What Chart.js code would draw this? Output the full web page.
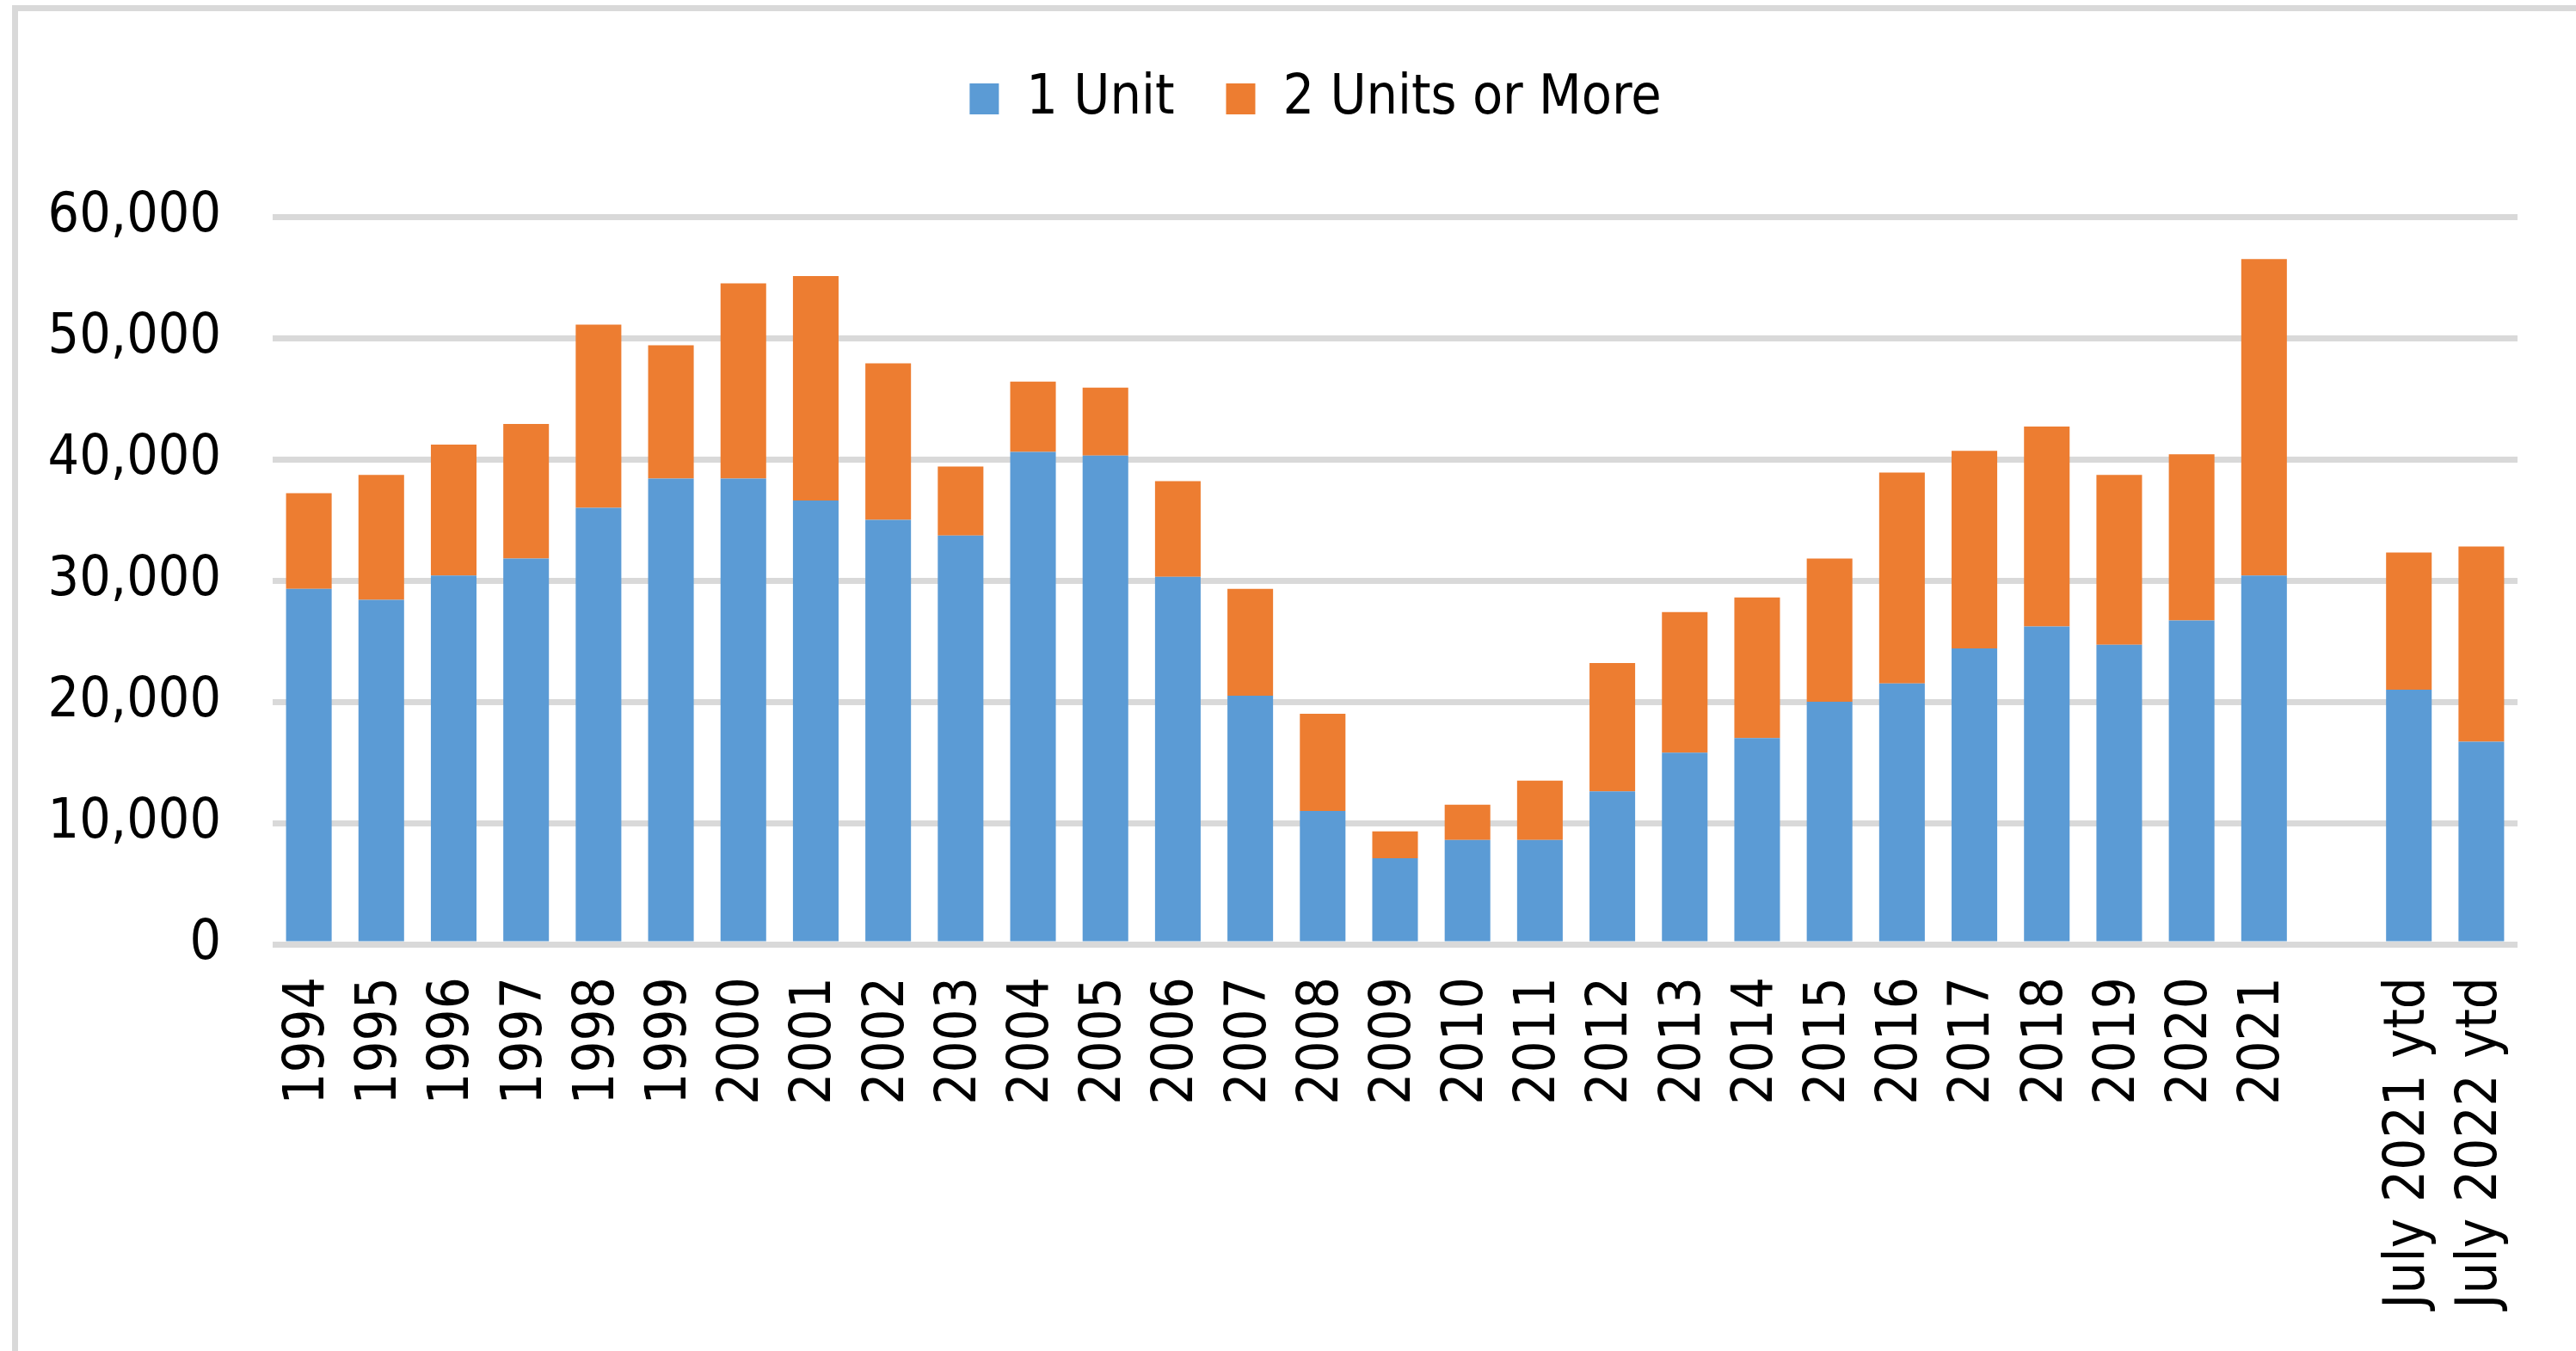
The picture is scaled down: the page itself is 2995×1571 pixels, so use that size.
<!DOCTYPE html>
<html>
<head>
<meta charset="utf-8">
<title>Housing Units Authorized</title>
<script src="https://cdn.jsdelivr.net/npm/chart.js"></script>
<style>
    html, body { margin: 0; padding: 0; background: #fff; }
    .frame { position: absolute; left: 14px; top: 6px; right: 0; bottom: 0;
             border-left: 7px solid #d9d9d9; border-top: 7px solid #d9d9d9; }
    canvas { position: absolute; left: 0; top: 0; }
</style>
</head>
<body>
<div class="frame"></div>
<canvas id="unitsChart" width="2995" height="1571" style="width:2995px;height:1571px"></canvas>
<script>
// categories (blank slot separates the full years from the year-to-date bars)
const years = ['1994', '1995', '1996', '1997', '1998', '1999', '2000', '2001', '2002', '2003',
    '2004', '2005', '2006', '2007', '2008', '2009', '2010', '2011', '2012', '2013',
    '2014', '2015', '2016', '2017', '2018', '2019', '2020', '2021', '',
    'July 2021 ytd', 'July 2022 ytd'];

const oneUnit = [29300, 28400, 30400, 31800, 36000, 38400, 38400, 36600, 35000, 33700,
    40600, 40300, 30300, 20500, 11000, 7100, 8600, 8600, 12600, 15800,
    17000, 20000, 21500, 24400, 26200, 24700, 26700, 30400, null,
    21000, 16700];

const twoOrMore = [7900, 10300, 10800, 11100, 15100, 11000, 16100, 18500, 12900, 5700,
    5800, 5600, 7900, 8800, 8000, 2200, 2900, 4900, 10600, 11600,
    11600, 11800, 17400, 16300, 16500, 14000, 13700, 26100, null,
    11300, 16100];

const yTicks = [0, 10000, 20000, 30000, 40000, 50000, 60000];

const FONT = "'DejaVu Sans Condensed', 'DejaVu Sans', sans-serif";
Chart.defaults.font.family = FONT;
Chart.defaults.color = '#000';

// push the plot area down below the legend
const legendSpacer = {
    id: 'legendSpacer',
    beforeInit(chart) {
        const fit = chart.legend.fit;
        chart.legend.fit = function () {
            fit.call(this);
            this.height = 229;
        };
    },
    afterLayout(chart) {
        // legend row sits a little right of the page centre
        chart.legend.left = 128;
        chart.legend.right = 2931;
    }
};

const ctx = document.getElementById('unitsChart').getContext('2d');
new Chart(ctx, {
    type: 'bar',
    data: {
        labels: years,
        datasets: [
            { label: '1 Unit', data: oneUnit, backgroundColor: '#5B9BD5',
              barPercentage: 0.63, categoryPercentage: 1 },
            { label: '2 Units or More', data: twoOrMore, backgroundColor: '#ED7D31',
              barPercentage: 0.63, categoryPercentage: 1 }
        ]
    },
    options: {
        responsive: false,
        devicePixelRatio: 1,
        animation: false,
        layout: { padding: { left: 20, right: 68, top: 23, bottom: 0 } },
        plugins: {
            legend: {
                position: 'top',
                labels: {
                    boxWidth: 34, boxHeight: 36, padding: 60,
                    font: { size: 64, family: FONT }, color: '#000'
                }
            },
            tooltip: { enabled: false }
        },
        scales: {
            x: {
                stacked: true,
                grid: { display: false, drawTicks: false },
                border: { display: false },
                ticks: {
                    autoSkip: false, minRotation: 90, maxRotation: 90, padding: 38,
                    font: { size: 65, family: FONT }, color: '#000'
                },
                afterFit(scale) {
                    scale.height = 473;
                    scale.paddingLeft = 0;
                    scale.paddingRight = 0;
                }
            },
            y: {
                stacked: true,
                min: 0, max: 60000,
                afterBuildTicks(scale) { scale.ticks = yTicks.map(v => ({ value: v })); },
                grid: { color: '#d9d9d9', lineWidth: 7, drawTicks: false },
                border: { display: false },
                ticks: {
                    padding: 60,
                    font: { size: 64, family: FONT }, color: '#000',
                    callback: v => v.toLocaleString('en-US')
                },
                afterFit(scale) { scale.width = 297; }
            }
        }
    },
    plugins: [legendSpacer]
});
</script>
</body>
</html>
